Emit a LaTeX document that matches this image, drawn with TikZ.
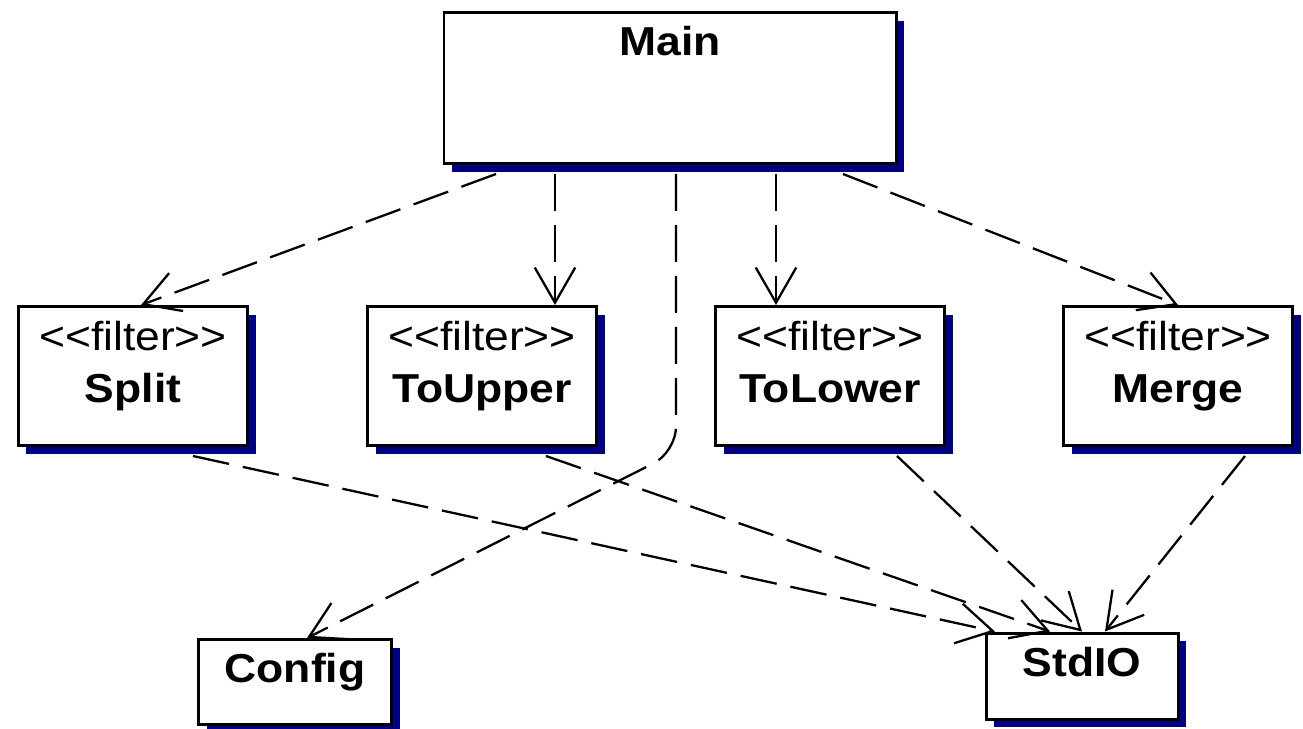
\documentclass[tikz,border=0pt]{standalone}
\usepackage{fontspec}
\newfontfamily\umlfont{Liberation Sans}[FakeStretch=1.1,Ligatures=TeXOff]
\definecolor{navy}{RGB}{0,0,128}
\usetikzlibrary{arrows.meta,shadows,calc}

\begin{document}
\begin{tikzpicture}[x=0.2mm,y=-0.2mm,
    umlbox/.style={draw,line width=1.7pt,fill=white,
      drop shadow={shadow xshift=1.6mm,shadow yshift=-1.6mm,fill=navy,opacity=1}},
    filterbox/.style={umlbox,minimum width=45.8mm,minimum height=27.8mm},
    txt/.style={anchor=base,inner sep=0pt,font=\umlfont\fontsize{23}{27}\selectfont},
    cls/.style={txt,font=\umlfont\bfseries\fontsize{23}{27}\selectfont},
    dep/.style={line width=1.3pt,dash pattern=on 21pt off 8pt,
      -{Straight Barb[length=20pt,width=23pt]}}]
        \useasboundingbox (0,0) rectangle (1303,728);
        \node[umlbox,minimum width=90.4mm,minimum height=30.2mm] (main) at (670,88) {};
        \node[filterbox] (split) at (133,376) {};
        \node[filterbox] (toupper) at (482,376) {};
        \node[filterbox] (tolower) at (830,376) {};
        \node[filterbox] (merge) at (1178,376) {};
        \node[umlbox,minimum width=38.6mm,minimum height=17mm] (config) at (295,682) {};
        \node[umlbox,minimum width=38.4mm,minimum height=17.2mm] (stdio) at (1082,676) {};
        \node[cls] (main-lbl) at ($(main.north)+(0,44)$) {Main};
        \foreach \n/\t in {split/Split,toupper/ToUpper,tolower/ToLower,merge/Merge}{
          \node[txt] (\n-st) at ($(\n.north)+(0,45)$) {<<filter>>};
          \node[cls] (\n-lbl) at ($(\n.north)+(0,97)$) {\t};
        }
        \node[cls] (config-lbl) at ($(config.north)+(0,44)$) {Config};
        \node[cls] (stdio-lbl) at ($(stdio.north)+(0,45)$) {StdIO};
        \draw[dep] ($(main.south)+(-174,9)$) -- ($(split.north)+(8,0)$);
        \draw[dep] ($(main.south)+(-115,9)$) -- ($(toupper.north)+(73,0)$);
        \draw[dep] ($(main.south)+(106,9)$) -- ($(tolower.north)+(-54,0)$);
        \draw[dep] ($(main.south)+(173,9)$) -- (merge.north);
        \coordinate (bend) at (676,452);
        \draw[dep,rounded corners=5mm] ($(main.south)+(6,9)$) -- (bend) -- ($(config.north)+(12,0)$);
        \foreach \n/\a/\b in {split/60/-87,toupper/64/-32,tolower/67/0,merge/67/23}
          \draw[dep] ($(\n.south)+(\a,9)$) -- ($(stdio.north)+(\b,0)$);
      \end{tikzpicture}
\end{document}
